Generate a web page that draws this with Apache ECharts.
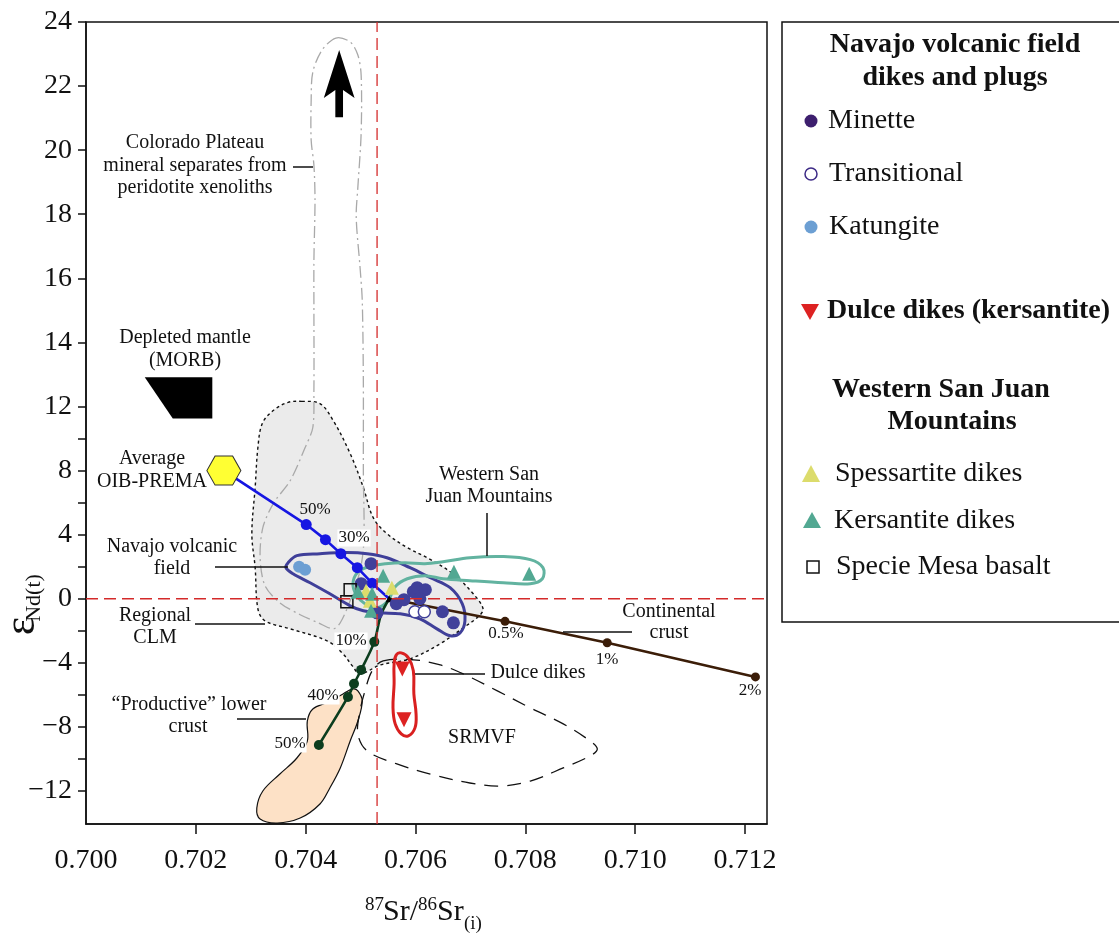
<!DOCTYPE html>
<html>
<head>
<meta charset="utf-8">
<script src="https://cdn.jsdelivr.net/npm/echarts@6/dist/echarts.min.js"></script>
<style>
  html, body { margin: 0; padding: 0; background: #fff; }
  #chart { width: 1119px; height: 934px; }
</style>
</head>
<body>
<div id="chart"></div>
<script>
// ---------------- axis ticks ----------------
const xLabelValues = [0.700, 0.702, 0.704, 0.706, 0.708, 0.710, 0.712];
const xTickValues = [0.702, 0.704, 0.706, 0.708, 0.710, 0.712];
const yLabelValues = [-12, -8, -4, 0, 4, 8, 12, 14, 16, 18, 20, 22, 24];
const yTickValues = [-12, -10, -8, -6, -4, -2, 0, 2, 4, 6, 8, 10, 12, 14, 16, 18, 20, 22, 24];

// ---------------- samples: [87Sr/86Sr(i), eNd(t)] ----------------
const minette = [[0.70519, 2.19], [0.70501, 0.94], [0.70565, -0.31], [0.70579, -0.06], [0.70596, 0.44],
  [0.70603, 0.69], [0.70618, 0.56], [0.70608, 0.00], [0.70649, -0.81], [0.70669, -1.50], [0.70530, -0.88]];
const transitional = [[0.70599, -0.81], [0.70616, -0.81]];
const katungite = [[0.70388, 2.00], [0.70399, 1.81]];
const dulceKersantite = [[0.70576, -4.38], [0.70579, -7.56]];
const spessartite = [[0.70510, 0.50], [0.70517, -0.12], [0.70557, 0.69]];
const kersantite = [[0.70541, 1.44], [0.70670, 1.69], [0.70807, 1.56], [0.70495, 0.44], [0.70521, 0.31], [0.70519, -0.75]];
const specieMesa = [[0.70481, 0.56], [0.70475, -0.19]];

// ---------------- mixing models ----------------
const premaPoint = [0.70251, 8.0];
const mixPremaSteps = [[0.70401, 4.63], [0.70436, 3.69], [0.70464, 2.81], [0.70494, 1.94], [0.70521, 0.97]];
const mixJunction = [0.70552, 0.0];
const mixLowerCrustSteps = [[0.70424, -9.13], [0.70477, -6.13], [0.70488, -5.31], [0.70501, -4.44], [0.70525, -2.69]];
const lowerCrustBend = [0.70537, -1.0];
const mixUpperCrustSteps = [[0.70763, -1.41], [0.70949, -2.75], [0.71219, -4.88]];

// ---------------- reference lines (bulk earth) ----------------
const refSr = 0.7053;
const refNd = 0;

// ---------------- fields ----------------
const coloradoPlateau = [[0.70455, 23.50], [0.70481, 23.38], [0.70495, 22.97], [0.70501, 22.34], [0.70501, 20.53],
  [0.70495, 18.84], [0.70492, 17.91], [0.70499, 16.34], [0.70503, 15.31], [0.70505, 12.81], [0.70505, 8.00],
  [0.70506, 3.63], [0.70499, 1.75], [0.70481, -0.13], [0.70463, -1.50], [0.70450, -1.88], [0.70423, -1.50],
  [0.70390, -1.00], [0.70353, -0.25], [0.70326, 0.81], [0.70317, 2.56], [0.70322, 4.44], [0.70341, 5.94],
  [0.70372, 7.38], [0.70399, 9.44], [0.70413, 10.69], [0.70415, 12.50], [0.70415, 15.09], [0.70415, 16.56],
  [0.70417, 18.44], [0.70415, 19.53], [0.70410, 20.31], [0.70410, 21.56], [0.70413, 22.44], [0.70430, 23.13]];
const upArrow = [[0.70461, 23.13], [0.70489, 21.63], [0.70468, 21.88], [0.70468, 21.03],
  [0.70454, 21.03], [0.70454, 21.88], [0.70433, 21.63]];
const depletedMantle = [[0.70107, 12.91], [0.70230, 12.91], [0.70230, 11.25], [0.70158, 11.25]];
const regionalCLM = [[0.70393, 12.16], [0.70426, 12.09], [0.70450, 11.13], [0.70481, 9.06], [0.70505, 6.94],
  [0.70523, 5.06], [0.70548, 4.06], [0.70585, 3.19], [0.70621, 2.56], [0.70668, 1.56], [0.70705, 0.31],
  [0.70723, -0.63], [0.70714, -1.13], [0.70687, -1.81], [0.70645, -2.81], [0.70590, -3.75], [0.70536, -4.13],
  [0.70499, -4.69], [0.70485, -4.19], [0.70468, -3.44], [0.70439, -2.63], [0.70372, -1.88], [0.70326, -1.38],
  [0.70313, -0.63], [0.70308, 1.94], [0.70302, 4.06], [0.70308, 6.94], [0.70313, 9.44], [0.70321, 10.94],
  [0.70341, 11.75], [0.70368, 12.13]];
const productiveLowerCrust = [[0.70495, -5.75], [0.70503, -6.38], [0.70495, -7.63], [0.70481, -8.88],
  [0.70463, -10.56], [0.70444, -11.81], [0.70426, -12.81], [0.70390, -13.69], [0.70348, -14.00],
  [0.70317, -13.75], [0.70311, -13.06], [0.70322, -12.00], [0.70353, -10.94], [0.70384, -9.94],
  [0.70403, -8.88], [0.70403, -7.63], [0.70413, -6.88], [0.70441, -6.44], [0.70468, -5.94], [0.70486, -5.63]];
const srmvf = [[0.70541, -3.88], [0.70596, -3.81], [0.70645, -4.13], [0.70687, -4.69], [0.70749, -5.75],
  [0.70809, -6.81], [0.70869, -7.81], [0.70918, -8.88], [0.70931, -9.38], [0.70918, -9.81], [0.70869, -10.56],
  [0.70809, -11.38], [0.70754, -11.69], [0.70699, -11.50], [0.70627, -10.94], [0.70566, -10.31],
  [0.70512, -9.50], [0.70495, -8.44], [0.70499, -7.00], [0.70508, -5.75], [0.70521, -4.50]];
const dulceField = [[0.70574, -3.38], [0.70587, -3.69], [0.70596, -4.50], [0.70597, -5.94], [0.70601, -7.19],
  [0.70599, -8.06], [0.70587, -8.56], [0.70574, -8.44], [0.70563, -7.81], [0.70559, -6.81], [0.70561, -5.31],
  [0.70561, -4.06], [0.70565, -3.50]];
const navajoField = [[0.70368, 2.25], [0.70384, 2.69], [0.70426, 2.81], [0.70475, 2.88], [0.70512, 2.81],
  [0.70548, 2.56], [0.70590, 1.94], [0.70627, 1.31], [0.70663, 0.69], [0.70685, -0.31], [0.70690, -1.38],
  [0.70681, -2.13], [0.70663, -2.31], [0.70639, -1.88], [0.70608, -1.25], [0.70572, -0.94], [0.70536, -0.88],
  [0.70505, -0.75], [0.70481, -0.44], [0.70444, 0.31], [0.70408, 1.00], [0.70377, 1.56], [0.70364, 1.94]];
const sanJuanField = [[0.70486, 0.94], [0.70494, 1.63], [0.70514, 2.00], [0.70545, 2.19], [0.70581, 2.25],
  [0.70617, 2.19], [0.70650, 2.31], [0.70699, 2.56], [0.70760, 2.63], [0.70809, 2.44], [0.70832, 1.94],
  [0.70831, 1.25], [0.70809, 0.94], [0.70760, 1.00], [0.70699, 1.13], [0.70650, 1.25], [0.70617, 1.44],
  [0.70585, 1.25], [0.70563, 0.75], [0.70550, -0.13], [0.70530, -0.56], [0.70508, -0.31], [0.70492, 0.25]];

// ---------------- scale: eNd axis is stretched x2 above +12 ----------------
const BREAK = 12;
const tY = y => (y <= BREAK ? y : BREAK + 2 * (y - BREAK));
const fromT = t => (t <= BREAK ? t : BREAK + (t - BREAK) / 2);
const P = p => [p[0], tY(p[1])];

const X_MIN = 0.700, X_MAX = 0.7124;
const T_MIN = -14.06, T_MAX = tY(24);

const FONT = '"Liberation Serif", "Times New Roman", serif';
const INK = '#111';

function region(pts, style, smooth, z) {
  return {
    type: 'custom',
    coordinateSystem: 'cartesian2d',
    silent: true,
    z: z,
    clip: true,
    data: [P(pts[0])],
    renderItem: function (params, api) {
      return {
        type: 'polygon',
        shape: { points: pts.map(p => api.coord(P(p))), smooth: smooth },
        style: style
      };
    }
  };
}

function scatter(data, symbol, size, itemStyle, z, extra) {
  return Object.assign({
    type: 'scatter', data: data.map(P), symbol: symbol, symbolSize: size,
    itemStyle: Object.assign({ opacity: 1 }, itemStyle), z: z, silent: true
  }, extra || {});
}

function polyline(data, color, width, z, extra) {
  return Object.assign({
    type: 'line', data: data.map(P), symbol: 'none', silent: true, z: z,
    lineStyle: { color: color, width: width }
  }, extra || {});
}

const minus = v => (v < 0 ? '\u2212' + Math.abs(v) : String(v));

// ---------------- annotation graphics ----------------
function text(x, y, str, size, opts) {
  opts = opts || {};
  return {
    type: 'text', x: x, y: y, z: 100, rotation: opts.rotation || 0,
    style: {
      text: str,
      font: (opts.bold ? 'bold ' : '') + size + 'px ' + FONT,
      fill: INK,
      align: opts.align || 'center', textAlign: opts.align || 'center',
      verticalAlign: 'middle', textVerticalAlign: 'middle',
      backgroundColor: opts.bg || null,
      padding: opts.bg ? [0, 1] : 0
    }
  };
}
function seg(x1, y1, x2, y2) {
  return { type: 'line', z: 100, shape: { x1: x1, y1: y1, x2: x2, y2: y2 }, style: { stroke: INK, lineWidth: 1.5 } };
}

const graphics = [];
// field and end-member names
[['Colorado Plateau', 195, 143], ['mineral separates from', 195, 166], ['peridotite xenoliths', 195, 188],
 ['Depleted mantle', 185, 338], ['(MORB)', 185, 361],
 ['Average', 152, 459], ['OIB-PREMA', 152, 482],
 ['Navajo volcanic', 172, 547], ['field', 172, 569],
 ['Regional', 155, 616], ['CLM', 155, 638],
 ['\u201CProductive\u201D lower', 189, 705], ['crust', 188, 727],
 ['Western San', 489, 475], ['Juan Mountains', 489, 497],
 ['Continental', 669, 612], ['crust', 669, 633],
 ['Dulce dikes', 538, 673], ['SRMVF', 482, 738]
].forEach(a => graphics.push(text(a[1], a[2], a[0], 20)));
// leader lines
graphics.push(seg(293, 167, 313, 167), seg(215, 567, 288, 567), seg(195, 624, 265, 624),
  seg(237, 719, 306, 719), seg(487, 513, 487, 556), seg(563, 632, 632, 632), seg(415, 674, 485, 674));
// mixing proportions
[['50%', 315, 510, false], ['30%', 354, 538, true], ['10%', 351, 641, true], ['40%', 323, 696, true],
 ['50%', 290, 744, true], ['0.5%', 506, 634, false], ['1%', 607, 660, false], ['2%', 750, 691, false]
].forEach(a => graphics.push(text(a[1], a[2], a[0], 17, { bg: a[3] ? '#fff' : null })));

// axis titles
graphics.push(text(365, 905, '87', 19, { align: 'left' }));
graphics.push(text(383, 912, 'Sr/', 30, { align: 'left' }));
graphics.push(text(418, 905, '86', 19, { align: 'left' }));
graphics.push(text(437, 912, 'Sr', 30, { align: 'left' }));
graphics.push(text(464, 924, '(i)', 19, { align: 'left' }));
graphics.push(text(22, 626, '\u03B5', 44, { rotation: Math.PI / 2 }));
graphics.push(text(34, 598, 'Nd(t)', 22, { rotation: Math.PI / 2 }));

// legend panel
graphics.push({ type: 'rect', z: 90, shape: { x: 782, y: 22, width: 345, height: 600 },
  style: { fill: '#fff', stroke: INK, lineWidth: 1.5 } });
graphics.push(text(955, 45, 'Navajo volcanic field', 28, { bold: true }));
graphics.push(text(955, 78, 'dikes and plugs', 28, { bold: true }));
graphics.push({ type: 'circle', z: 100, shape: { cx: 811, cy: 121, r: 6.5 }, style: { fill: '#3d1f6e' } });
graphics.push(text(828, 121, 'Minette', 28, { align: 'left' }));
graphics.push({ type: 'circle', z: 100, shape: { cx: 811, cy: 174, r: 6 }, style: { fill: '#fff', stroke: '#3d2a86', lineWidth: 1.5 } });
graphics.push(text(829, 174, 'Transitional', 28, { align: 'left' }));
graphics.push({ type: 'circle', z: 100, shape: { cx: 811, cy: 227, r: 6.5 }, style: { fill: '#6c9fd3' } });
graphics.push(text(829, 227, 'Katungite', 28, { align: 'left' }));
graphics.push({ type: 'polygon', z: 100, shape: { points: [[801, 304], [819, 304], [810, 320]] }, style: { fill: '#dd2222' } });
graphics.push(text(827, 311, 'Dulce dikes (kersantite)', 28, { align: 'left', bold: true }));
graphics.push(text(941, 390, 'Western San Juan', 28, { bold: true }));
graphics.push(text(952, 422, 'Mountains', 28, { bold: true }));
graphics.push({ type: 'polygon', z: 100, shape: { points: [[811, 465], [820, 482], [802, 482]] }, style: { fill: '#dcdc6c' } });
graphics.push(text(835, 474, 'Spessartite dikes', 28, { align: 'left' }));
graphics.push({ type: 'polygon', z: 100, shape: { points: [[812, 512], [821, 528], [803, 528]] }, style: { fill: '#52a892' } });
graphics.push(text(834, 521, 'Kersantite dikes', 28, { align: 'left' }));
graphics.push({ type: 'rect', z: 100, shape: { x: 807, y: 561, width: 12, height: 12 }, style: { fill: '#fff', stroke: INK, lineWidth: 1.5 } });
graphics.push(text(836, 567, 'Specie Mesa basalt', 28, { align: 'left' }));

// ---------------- chart ----------------
const hexagonPath = 'path://M0,14 L8,0 L25,0 L33,14 L25,28 L8,28 Z';

const option = {
  animation: false,
  backgroundColor: '#fff',
  grid: { left: 86, right: 352, top: 22, bottom: 110, show: true, borderColor: INK, borderWidth: 1.5, backgroundColor: 'transparent' },
  xAxis: {
    type: 'value', min: X_MIN, max: X_MAX,
    axisLine: { show: true, onZero: false, lineStyle: { color: INK, width: 1.5 } },
    axisTick: { show: true, length: 10, customValues: xTickValues, lineStyle: { color: INK, width: 1.5 } },
    axisLabel: { customValues: xLabelValues, formatter: v => v.toFixed(3), margin: 23,
      fontFamily: FONT, fontSize: 28, color: INK },
    splitLine: { show: false }
  },
  yAxis: {
    type: 'value', min: T_MIN, max: T_MAX,
    axisLine: { show: true, onZero: false, lineStyle: { color: INK, width: 1.5 } },
    axisTick: { show: true, length: 8, customValues: yTickValues.map(tY), lineStyle: { color: INK, width: 1.5 } },
    axisLabel: { customValues: yLabelValues.map(tY), formatter: t => minus(Math.round(fromT(t))), margin: 14,
      fontFamily: FONT, fontSize: 28, color: INK },
    splitLine: { show: false }
  },
  graphic: { elements: graphics },
  series: [
    region(regionalCLM, { fill: '#ebebeb', stroke: INK, lineWidth: 1.4, lineDash: [3, 3] }, 0.35, 1),
    region(coloradoPlateau, { fill: 'none', stroke: '#a9a9a9', lineWidth: 1.3, lineDash: [12, 4, 2, 4] }, 0.3, 2),
    region(productiveLowerCrust, { fill: '#fde1c6', stroke: INK, lineWidth: 1.2 }, 0.35, 2),
    region(srmvf, { fill: 'none', stroke: INK, lineWidth: 1.3, lineDash: [14, 9] }, 0.35, 2),
    region(upArrow, { fill: '#000' }, 0, 2),
    region(depletedMantle, { fill: '#000' }, 0, 2),
    region(dulceField, { fill: 'none', stroke: '#d92020', lineWidth: 3 }, 0.4, 3),
    region(navajoField, { fill: 'none', stroke: '#3f3f99', lineWidth: 3 }, 0.35, 3),
    region(sanJuanField, { fill: 'none', stroke: '#62b3a0', lineWidth: 3 }, 0.35, 3),

    polyline([premaPoint].concat(mixPremaSteps, [mixJunction]), '#1616e2', 2.6, 4),
    polyline(mixLowerCrustSteps.concat([lowerCrustBend, mixJunction]), '#0c3d1e', 2.6, 4, { smooth: 0.3 }),
    polyline([mixJunction].concat(mixUpperCrustSteps), '#3b1d08', 2.6, 4),
    scatter(mixPremaSteps, 'circle', 11, { color: '#1616e2' }, 5),
    scatter(mixLowerCrustSteps, 'circle', 10, { color: '#0c3d1e' }, 5),
    scatter(mixUpperCrustSteps, 'circle', 9, { color: '#3b1d08' }, 5),
    scatter([mixJunction], 'triangle', 7, { color: '#000' }, 5),
    scatter([premaPoint], hexagonPath, [34, 29], { color: '#ffff33', borderColor: '#333', borderWidth: 1 }, 6),

    scatter(katungite, 'circle', 12, { color: '#6c9fd3' }, 6),
    scatter(minette, 'circle', 13, { color: '#40409a' }, 6),
    scatter(transitional, 'circle', 12, { color: '#fff', borderColor: '#40409a', borderWidth: 1.5 }, 6),
    scatter(specieMesa, 'rect', 12, { color: 'rgba(0,0,0,0)', borderColor: INK, borderWidth: 1.5 }, 6),
    scatter(spessartite, 'triangle', 14, { color: '#dcdc6c' }, 6),
    scatter(kersantite, 'triangle', 14, { color: '#52a892' }, 6),
    scatter(dulceKersantite, 'triangle', 15, { color: '#dd2222' }, 6, { symbolRotate: 180 }),

    polyline([[refSr, fromT(T_MIN)], [refSr, 24]], '#d42a2a', 1.3, 7, { lineStyle: { color: '#d42a2a', width: 1.3, type: [12, 6] } }),
    polyline([[X_MIN, refNd], [X_MAX, refNd]], '#d42a2a', 1.3, 7, { lineStyle: { color: '#d42a2a', width: 1.3, type: [12, 6] } })
  ]
};

const chart = echarts.init(document.getElementById('chart'));
chart.setOption(option);
</script>
</body>
</html>
